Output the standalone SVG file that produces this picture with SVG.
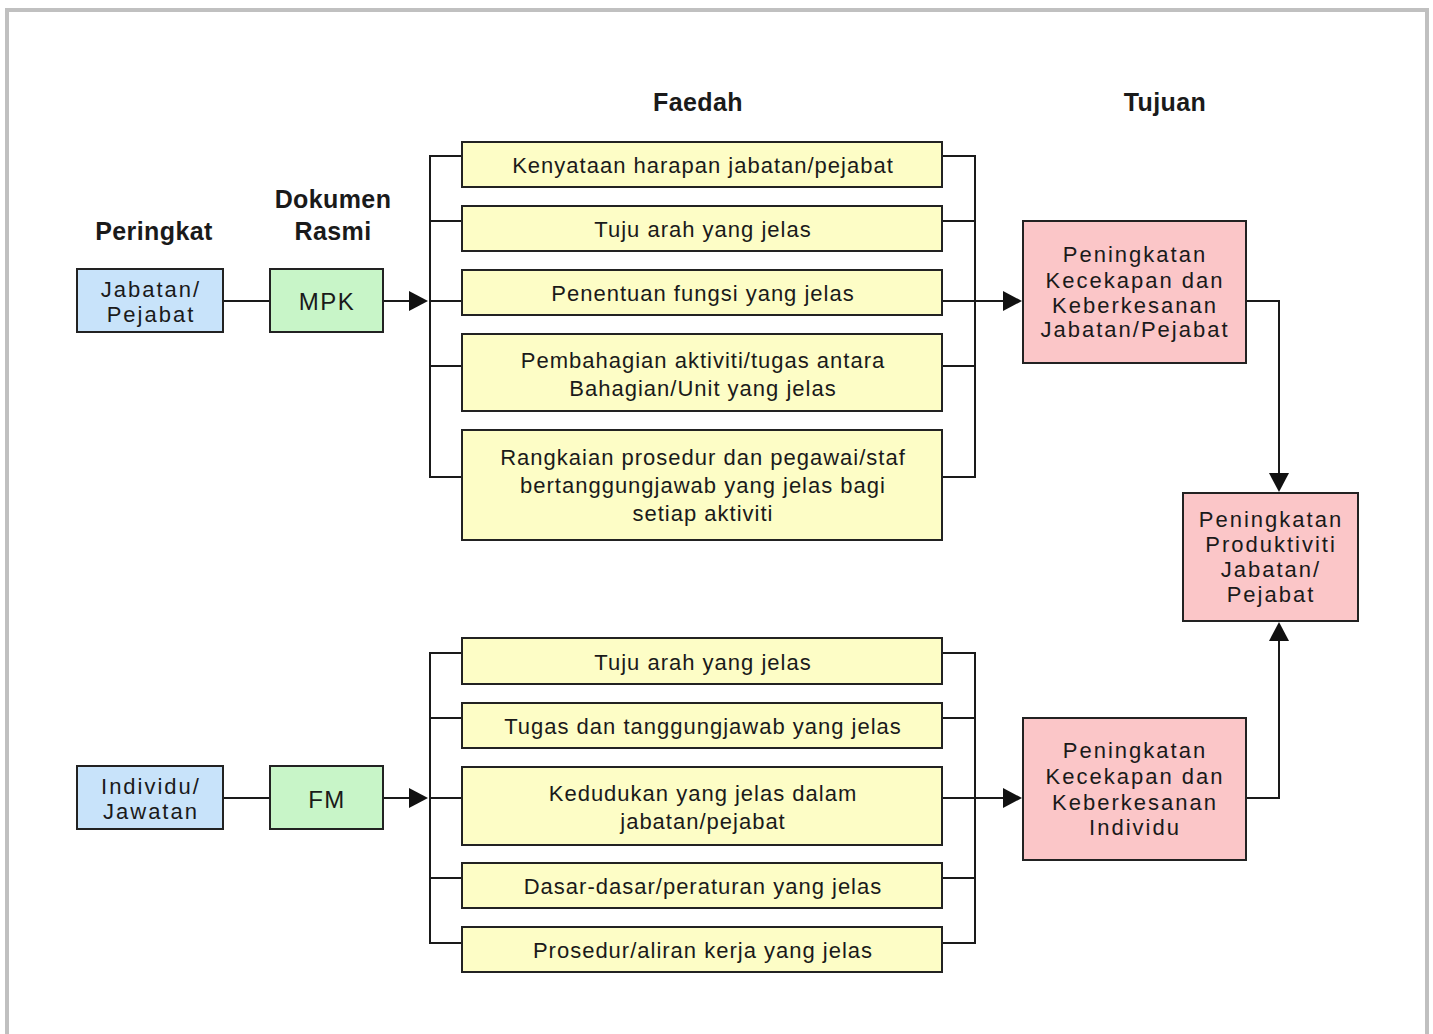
<svg xmlns="http://www.w3.org/2000/svg" width="1433" height="1034" viewBox="0 0 1433 1034">
<style>
.box{stroke:#222;stroke-width:2}
.blue{fill:#c8e3fa}
.green{fill:#c8f5c8}
.yellow{fill:#fdfdc6}
.pink{fill:#fbc6c8}
.t{font-family:"Liberation Sans",Arial,sans-serif;font-size:22px;fill:#1a1a1a;text-anchor:middle;letter-spacing:1px}
.tp{font-family:"Liberation Sans",Arial,sans-serif;font-size:22px;fill:#1a1a1a;text-anchor:middle;letter-spacing:2px}
.tb{font-family:"Liberation Sans",Arial,sans-serif;font-size:24px;fill:#1a1a1a;text-anchor:middle;letter-spacing:1.5px}
.h{font-family:"Liberation Sans",Arial,sans-serif;font-size:25px;font-weight:bold;fill:#1a1a1a;text-anchor:middle;letter-spacing:0.4px}
.c{fill:none;stroke:#1a1a1a;stroke-width:2}
.ah{fill:#111}
</style>
<rect x="0" y="0" width="1433" height="1034" fill="#ffffff"/>
<rect x="7" y="10" width="1420" height="1100" fill="none" stroke="#c0c0c0" stroke-width="4"/>

<g id="headers">
<text class="h" x="154" y="240">Peringkat</text>
<text class="h" x="333" y="208">Dokumen</text>
<text class="h" x="333" y="240">Rasmi</text>
<text class="h" x="698" y="111">Faedah</text>
<text class="h" x="1165" y="111">Tujuan</text>
</g>

<g id="connectors">
<!-- top branch -->
<path class="c" d="M223,301 H270"/>
<path class="c" d="M383,301 H412"/>
<polygon class="ah" points="409,291 428,301 409,311"/>
<path class="c" d="M462,156 H430 V477 H462 M430,221 H462 M430,301 H462 M430,366 H462"/>
<path class="c" d="M942,156 H975 V477 H942 M942,221 H975 M942,366 H975 M942,301 H1005"/>
<polygon class="ah" points="1003,291 1022,301 1003,311"/>
<path class="c" d="M1246,301 H1279 V475"/>
<polygon class="ah" points="1269,473 1279,492 1289,473"/>
<!-- bottom branch -->
<path class="c" d="M223,798 H270"/>
<path class="c" d="M383,798 H412"/>
<polygon class="ah" points="409,788 428,798 409,808"/>
<path class="c" d="M462,653 H430 V943 H462 M430,718 H462 M430,798 H462 M430,878 H462"/>
<path class="c" d="M942,653 H975 V943 H942 M942,718 H975 M942,878 H975 M942,798 H1005"/>
<polygon class="ah" points="1003,788 1022,798 1003,808"/>
<path class="c" d="M1246,798 H1279 V640"/>
<polygon class="ah" points="1269,641 1279,622 1289,641"/>
</g>

<g id="n-jabatan">
<rect class="box blue" x="77" y="269" width="146" height="63"/>
<text class="tp" x="151" y="297">Jabatan/</text>
<text class="tp" x="151" y="322">Pejabat</text>
</g>
<g id="n-mpk">
<rect class="box green" x="270" y="269" width="113" height="63"/>
<text class="tb" x="327" y="310">MPK</text>
</g>
<g id="n-individu">
<rect class="box blue" x="77" y="766" width="146" height="63"/>
<text class="tp" x="151" y="794">Individu/</text>
<text class="tp" x="151" y="819">Jawatan</text>
</g>
<g id="n-fm">
<rect class="box green" x="270" y="766" width="113" height="63"/>
<text class="tb" x="327" y="808">FM</text>
</g>

<g id="f1">
<rect class="box yellow" x="462" y="142" width="480" height="45"/>
<text class="t" x="703" y="173">Kenyataan harapan jabatan/pejabat</text>
</g>
<g id="f2">
<rect class="box yellow" x="462" y="206" width="480" height="45"/>
<text class="t" x="703" y="237">Tuju arah yang jelas</text>
</g>
<g id="f3">
<rect class="box yellow" x="462" y="270" width="480" height="45"/>
<text class="t" x="703" y="301">Penentuan fungsi yang jelas</text>
</g>
<g id="f4">
<rect class="box yellow" x="462" y="334" width="480" height="77"/>
<text class="t" x="703" y="368">Pembahagian aktiviti/tugas antara</text>
<text class="t" x="703" y="396">Bahagian/Unit yang jelas</text>
</g>
<g id="f5">
<rect class="box yellow" x="462" y="430" width="480" height="110"/>
<text class="t" x="703" y="465">Rangkaian prosedur dan pegawai/staf</text>
<text class="t" x="703" y="493">bertanggungjawab yang jelas bagi</text>
<text class="t" x="703" y="521">setiap aktiviti</text>
</g>

<g id="g1">
<rect class="box yellow" x="462" y="638" width="480" height="46"/>
<text class="t" x="703" y="670">Tuju arah yang jelas</text>
</g>
<g id="g2">
<rect class="box yellow" x="462" y="703" width="480" height="45"/>
<text class="t" x="703" y="734">Tugas dan tanggungjawab yang jelas</text>
</g>
<g id="g3">
<rect class="box yellow" x="462" y="767" width="480" height="78"/>
<text class="t" x="703" y="801">Kedudukan yang jelas dalam</text>
<text class="t" x="703" y="829">jabatan/pejabat</text>
</g>
<g id="g4">
<rect class="box yellow" x="462" y="863" width="480" height="45"/>
<text class="t" x="703" y="894">Dasar-dasar/peraturan yang jelas</text>
</g>
<g id="g5">
<rect class="box yellow" x="462" y="927" width="480" height="45"/>
<text class="t" x="703" y="958">Prosedur/aliran kerja yang jelas</text>
</g>

<g id="t1">
<rect class="box pink" x="1023" y="221" width="223" height="142"/>
<text class="tp" x="1135" y="262">Peningkatan</text>
<text class="tp" x="1135" y="288">Kecekapan dan</text>
<text class="tp" x="1135" y="313">Keberkesanan</text>
<text class="tp" x="1135" y="337">Jabatan/Pejabat</text>
</g>
<g id="t2">
<rect class="box pink" x="1183" y="493" width="175" height="128"/>
<text class="tp" x="1271" y="527">Peningkatan</text>
<text class="tp" x="1271" y="552">Produktiviti</text>
<text class="tp" x="1271" y="577">Jabatan/</text>
<text class="tp" x="1271" y="602">Pejabat</text>
</g>
<g id="t3">
<rect class="box pink" x="1023" y="718" width="223" height="142"/>
<text class="tp" x="1135" y="758">Peningkatan</text>
<text class="tp" x="1135" y="784">Kecekapan dan</text>
<text class="tp" x="1135" y="810">Keberkesanan</text>
<text class="tp" x="1135" y="835">Individu</text>
</g>
</svg>
